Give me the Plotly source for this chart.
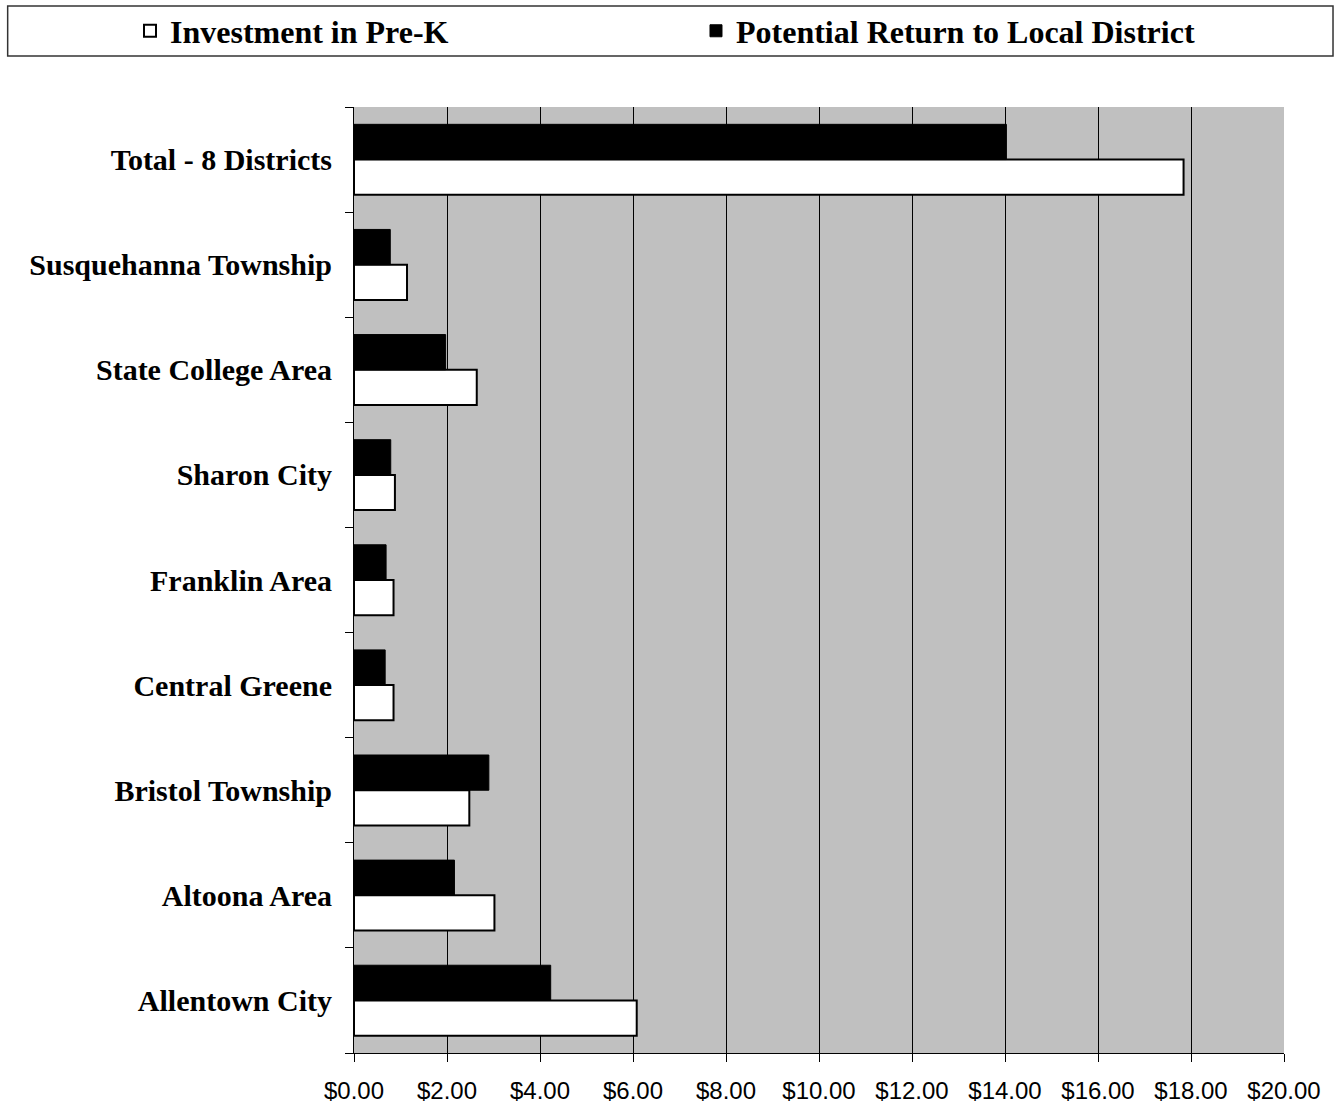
import plotly.graph_objects as go

# District names, listed bottom-to-top as they appear on the axis
districts = [
    "Allentown City",
    "Altoona Area",
    "Bristol Township",
    "Central Greene",
    "Franklin Area",
    "Sharon City",
    "State College Area",
    "Susquehanna Township",
    "Total - 8 Districts",
]

# Dollar amounts (millions) per district
investment = [6.08, 3.02, 2.48, 0.85, 0.85, 0.88, 2.64, 1.14, 17.84]
potential_return = [4.23, 2.16, 2.90, 0.67, 0.69, 0.79, 1.97, 0.78, 14.03]

x_ticks = [0, 2, 4, 6, 8, 10, 12, 14, 16, 18, 20]
x_tick_labels = ["$0.00", "$2.00", "$4.00", "$6.00", "$8.00", "$10.00",
                 "$12.00", "$14.00", "$16.00", "$18.00", "$20.00"]

serif = "Liberation Serif, Times New Roman, serif"
sans = "Liberation Sans, Arial, sans-serif"

fig = go.Figure()
fig.add_trace(go.Bar(
    name="Investment in Pre-K",
    y=districts, x=investment, orientation="h",
    marker=dict(color="white", line=dict(color="black", width=2)),
    legend="legend",
))
fig.add_trace(go.Bar(
    name="Potential Return to Local District",
    y=districts, x=potential_return, orientation="h",
    marker=dict(color="black", line=dict(color="black", width=1)),
    legend="legend2",
))

legend_style = dict(
    orientation="h",
    xref="container", yref="container",
    xanchor="left",
    y=0.972, yanchor="middle",
    font=dict(family=serif, size=32, color="black", weight="bold"),
    bgcolor="rgba(0,0,0,0)",
)

fig.update_layout(
    width=1340, height=1106,
    margin=dict(l=354, r=56, t=107, b=53),
    paper_bgcolor="white",
    plot_bgcolor="#C0C0C0",
    barmode="group",
    bargap=0.33,
    bargroupgap=0,
    showlegend=True,
    legend=dict(legend_style, x=0.097),
    legend2=dict(legend_style, x=0.5194),
    xaxis=dict(
        range=[0, 20],
        tickvals=x_ticks,
        ticktext=x_tick_labels,
        tickfont=dict(family=sans, size=24, color="black"),
        showgrid=True, gridcolor="black", gridwidth=1,
        showline=True, linecolor="black", linewidth=1,
        ticks="outside", ticklen=8, tickcolor="black",
        ticklabelstandoff=8,
        zeroline=False,
        automargin=False,
        fixedrange=True,
    ),
    yaxis=dict(
        type="category",
        categoryorder="array", categoryarray=districts,
        tickfont=dict(family=serif, size=30, color="black", weight="bold"),
        showline=True, linecolor="black", linewidth=1,
        ticks="outside", ticklen=8, tickcolor="black",
        tickson="boundaries",
        showgrid=False,
        ticklabelstandoff=15,
        automargin=False,
        fixedrange=True,
    ),
    shapes=[dict(
        type="rect", xref="paper", yref="paper",
        x0=-0.3724, x1=1.0527, y0=1.0539, y1=1.1068,
        line=dict(color="#333333", width=1.5),
        fillcolor="rgba(0,0,0,0)",
    )],
)

fig.write_html("out.html")
